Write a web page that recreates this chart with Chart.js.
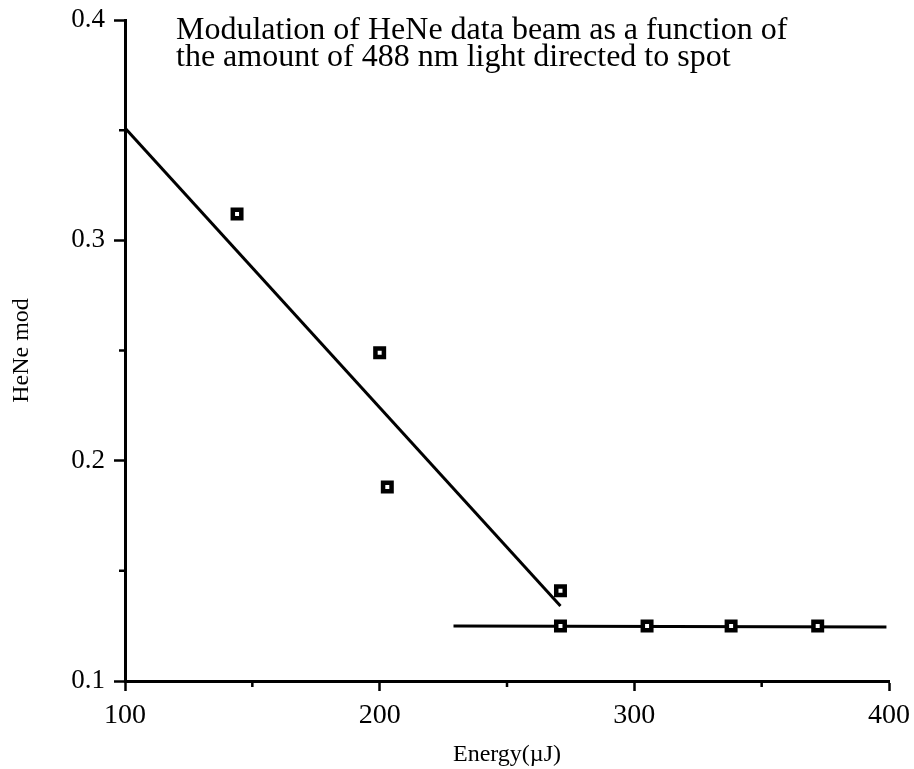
<!DOCTYPE html>
<html>
<head>
<meta charset="utf-8">
<script src="https://cdn.jsdelivr.net/npm/chart.js@4.4.1/dist/chart.umd.min.js"></script>
<style>
  html, body { margin: 0; padding: 0; background: #fff; }
  #wrap { width: 914px; height: 769px; }
</style>
</head>
<body>
<div id="wrap"><canvas id="c" width="914" height="769"></canvas></div>
<script>
// ---- data ----
const energy   = [144, 200, 203, 271, 271, 305, 338, 372];
const heneMod  = [0.312, 0.249, 0.188, 0.141, 0.125, 0.125, 0.125, 0.125];
const fit1X = [100, 271];
const fit1Y = [0.351, 0.134];
const fit2X = [229, 399];
const fit2Y = [0.125, 0.1245];
const xMajorTicks = [100, 200, 300, 400];
const xMinorTicks = [150, 250, 350];
const yMajorTicks = [0.1, 0.2, 0.3, 0.4];
const yMinorTicks = [0.15, 0.25, 0.35];
const titleLines = [
  'Modulation of HeNe data beam as a function of',
  'the amount of 488 nm light directed to spot'
];
const xTitle = 'Energy(\u00B5J)';
const yTitle = 'HeNe mod';

const SERIF = '"Liberation Serif", "DejaVu Serif", serif';

const pts = energy.map((x, i) => ({x, y: heneMod[i]}));
const line1 = fit1X.map((x, i) => ({x, y: fit1Y[i]}));
const line2 = fit2X.map((x, i) => ({x, y: fit2Y[i]}));

const decorPlugin = {
  id: 'decor',
  afterDraw(chart) {
    const {ctx, scales: {x, y}, chartArea} = chart;
    ctx.save();
    ctx.strokeStyle = '#000';
    ctx.lineWidth = 2.5;
    ctx.beginPath();
    xMinorTicks.forEach(v => {
      const px = x.getPixelForValue(v);
      ctx.moveTo(px, chartArea.bottom);
      ctx.lineTo(px, chartArea.bottom + 6);
    });
    yMinorTicks.forEach(v => {
      const py = y.getPixelForValue(v);
      ctx.moveTo(chartArea.left, py);
      ctx.lineTo(chartArea.left - 6, py);
    });
    ctx.stroke();
    ctx.fillStyle = '#000';
    ctx.font = '32px ' + SERIF;
    ctx.textBaseline = 'alphabetic';
    ctx.textAlign = 'left';
    ctx.fillText(titleLines[0], 176, 39);
    ctx.fillText(titleLines[1], 176, 66);
    ctx.restore();
  }
};

new Chart(document.getElementById('c'), {
  type: 'scatter',
  data: {
    datasets: [
      {
        data: pts,
        showLine: false,
        pointStyle: 'rect',
        pointRadius: 6.0,
        pointHoverRadius: 6.0,
        pointBorderWidth: 4.5,
        pointBackgroundColor: '#fff',
        pointBorderColor: '#000'
      },
      {
        data: line1,
        showLine: true,
        borderColor: '#000',
        borderWidth: 3,
        pointRadius: 0,
        fill: false
      },
      {
        data: line2,
        showLine: true,
        borderColor: '#000',
        borderWidth: 3,
        pointRadius: 0,
        fill: false
      }
    ]
  },
  options: {
    responsive: false,
    animation: false,
    devicePixelRatio: 1,
    layout: { padding: { top: 20, right: 25, left: 0, bottom: 0 } },
    plugins: { legend: { display: false }, tooltip: { enabled: false } },
    scales: {
      x: {
        type: 'linear',
        min: 100, max: 400,
        afterFit(s) { s.height = 88; s.paddingLeft = 0; s.paddingRight = 0; },
        afterBuildTicks(s) { s.ticks = xMajorTicks.map(v => ({value: v})); },
        border: { display: true, color: '#000', width: 3 },
        grid: { drawOnChartArea: false, drawTicks: true, tickLength: 10, tickWidth: 2.5, tickColor: '#000' },
        ticks: { color: '#000', padding: 8, maxRotation: 0, font: { family: SERIF, size: 28 },
                 callback: v => String(v) },
        title: { display: true, text: xTitle, color: '#000', font: { family: SERIF, size: 24 },
                 padding: { top: 0, bottom: 0 } }
      },
      y: {
        type: 'linear',
        min: 0.1, max: 0.4,
        afterFit(s) { s.width = 125; s.paddingTop = 0; s.paddingBottom = 0; },
        afterBuildTicks(s) { s.ticks = yMajorTicks.map(v => ({value: v})); },
        border: { display: true, color: '#000', width: 3 },
        grid: { drawOnChartArea: false, drawTicks: true, tickLength: 11, tickWidth: 2.5, tickColor: '#000' },
        ticks: { color: '#000', padding: 9, font: { family: SERIF, size: 27 },
                 callback: v => Number(v).toFixed(1) },
        title: { display: true, text: yTitle, color: '#000', font: { family: SERIF, size: 24 },
                 padding: { top: 7, bottom: 0 } }
      }
    }
  },
  plugins: [decorPlugin]
});
</script>
</body>
</html>
